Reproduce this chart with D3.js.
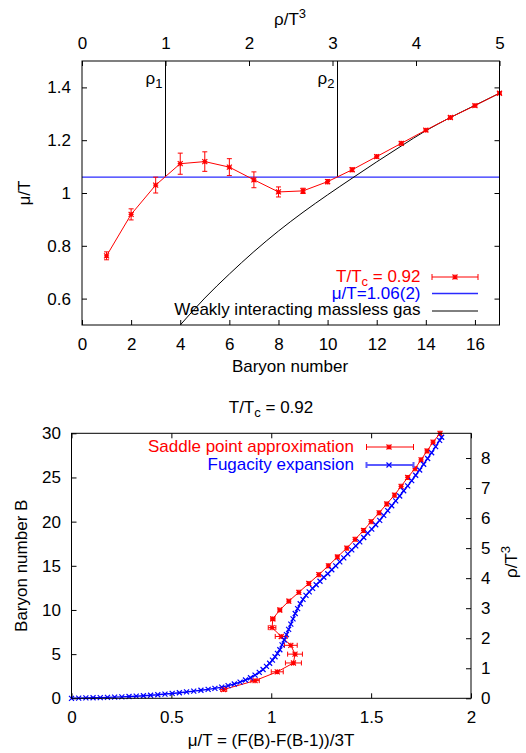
<!DOCTYPE html>
<html>
<head>
<meta charset="UTF-8">
<title></title>
<style>
body {margin: 0; background: #fff;}
svg text {font-family: "Liberation Sans", Arial, sans-serif; font-size: 17px;}
.axis path.domain {display: none;}
.axis line {stroke: #000;}
</style>
</head>
<body>
<script src="https://cdnjs.cloudflare.com/ajax/libs/d3/7.8.5/d3.min.js"></script>
<script>
// lattice data, T/Tc = 0.92
var baryon = [1,2,3,4,5,6,7,8,9,10,11,12,13,14,15,16,17,18,19,20,21,22,23,24,25,26,27,28,29,30];
var muT = [0.762,0.919,1.030,1.111,1.119,1.098,1.050,1.004,1.008,1.043,1.088,1.138,1.188,1.238,1.286,1.331,1.378,
           1.420,1.462,1.500,1.540,1.578,1.617,1.650,1.683,1.720,1.750,1.780,1.810,1.845];
var muErr = [0.015,0.021,0.030,0.040,0.037,0.032,0.030,0.019,0.010,0.008,0.007,0.006,0.006,0.005,0.005,0.005,0.005,
             0.005,0.005,0.005,0.005,0.005,0.005,0.005,0.005,0.005,0.005,0.005,0.005,0.005];
var muPlateau = 1.06;
// weakly interacting massless gas
var gasB = [4,5,6,7,8,9,10,11,12,13,14,15,16,17];
var gasMu = [0.500,0.602,0.693,0.778,0.856,0.927,0.993,1.056,1.118,1.178,1.236,1.286,1.332,1.378];
// fugacity expansion
var fugMu = [0,0.036,0.072,0.108,0.144,0.18,0.216,0.252,0.288,0.324,0.36,0.396,0.432,0.468,0.504,0.54,0.576,0.612,0.648,0.684,
             0.718,0.752,0.784,0.815,0.844,0.871,0.896,0.919,0.94,0.959,0.976,0.992,1.006,1.019,1.031,1.043,1.054,1.065,1.076,1.087,
             1.098,1.109,1.12,1.132,1.145,1.159,1.174,1.19,1.207,1.225,1.244,1.263,1.283,1.303,1.323,1.343,1.363,1.383,1.403,1.423,
             1.443,1.463,1.483,1.503,1.523,1.543,1.563,1.583,1.603,1.623,1.643,1.663,1.683,1.703,1.723,1.743,1.763,1.783,1.803,1.823,
             1.843,1.853];
var fugB = [0,0.02,0.04,0.06,0.08,0.11,0.13,0.16,0.2,0.24,0.29,0.34,0.4,0.48,0.55,0.63,0.72,0.81,0.91,1.01,
            1.13,1.27,1.43,1.62,1.83,2.07,2.33,2.62,2.93,3.26,3.61,3.97,4.33,4.7,5.08,5.5,6.05,6.6,7.2,7.8,
            8.4,9.0,9.6,10.15,10.7,11.2,11.65,12.05,12.45,12.85,13.25,13.7,14.1,14.55,15.0,15.45,15.9,16.35,16.8,17.25,
            17.7,18.2,18.7,19.15,19.65,20.15,20.7,21.25,21.8,22.35,22.9,23.5,24.05,24.65,25.25,25.85,26.5,27.15,27.8,28.5,
            29.2,29.55];
// coexistence densities rho/T^3
var rhoNames = ["1", "2"];
var rhoValues = [1.0, 3.06];
var rhoPerB = 5 / 17;
// tick labels
var topBTicks = [0,2,4,6,8,10,12,14,16];
var topMuTicks = [0.6,0.8,1.0,1.2,1.4];
var topRhoTicks = [0,1,2,3,4,5];
var botMuTicks = [0,0.5,1,1.5,2];
var botBTicks = [0,5,10,15,20,25,30];
var botRhoTicks = [0,1,2,3,4,5,6,7,8];

var red = "#ff0000", blue = "#0000ff";
var svg = d3.select("body").append("svg").attr("width", 526).attr("height", 753);
var fmt = function(d) { return String(+d.toFixed(2)); };

function star(g, x, y, s, col) {
	g.append("path")
		.attr("d", "M" + (x - s) + "," + y + "h" + 2 * s + "M" + x + "," + (y - s) + "v" + 2 * s +
			"M" + (x - s) + "," + (y - s) + "l" + 2 * s + "," + 2 * s + "M" + (x - s) + "," + (y + s) + "l" + 2 * s + "," + (-2 * s))
		.attr("stroke", col).attr("stroke-width", 1.2).attr("fill", "none");
}
function cross(g, x, y, s, col) {
	g.append("path")
		.attr("d", "M" + (x - s) + "," + (y - s) + "l" + 2 * s + "," + 2 * s + "M" + (x - s) + "," + (y + s) + "l" + 2 * s + "," + (-2 * s))
		.attr("stroke", col).attr("stroke-width", 1.2).attr("fill", "none");
}
function hbar(g, x1, x2, y, c, col, w) {
	g.append("path")
		.attr("d", "M" + x1 + "," + y + "H" + x2 + "M" + x1 + "," + (y - c) + "v" + 2 * c + "M" + x2 + "," + (y - c) + "v" + 2 * c)
		.attr("stroke", col).attr("stroke-width", w || 1).attr("fill", "none");
}

// ---------- top panel ----------
var L1 = 82, R1 = 499.5, T1 = 61, B1 = 325;
var xB = d3.scaleLinear().domain([0, 17]).range([L1, R1]);
var yMu = d3.scaleLinear().domain([0.5, 1.5]).range([B1, T1]);
var xRho = d3.scaleLinear().domain([0, 17 * rhoPerB]).range([L1, R1]);

svg.append("g").attr("class", "axis").attr("transform", "translate(0," + B1 + ")")
	.call(d3.axisBottom(xB).tickValues(topBTicks).tickSizeInner(-5).tickSizeOuter(0).tickPadding(13).tickFormat(fmt));
svg.append("g").attr("class", "axis").attr("transform", "translate(0," + T1 + ")")
	.call(d3.axisTop(xRho).tickValues(topRhoTicks).tickSizeInner(-5).tickSizeOuter(0).tickPadding(12).tickFormat(fmt));
svg.append("g").attr("class", "axis").attr("transform", "translate(" + L1 + ",0)")
	.call(d3.axisLeft(yMu).tickValues(topMuTicks).tickSizeInner(-5).tickSizeOuter(0).tickPadding(11).tickFormat(fmt));
svg.append("g").attr("class", "axis").attr("transform", "translate(" + R1 + ",0)")
	.call(d3.axisRight(yMu).tickValues(topMuTicks).tickSizeInner(-5).tickSizeOuter(0).tickFormat(""));
svg.selectAll(".axis text").style("font-size", "17px").attr("fill", "#000");

svg.append("defs").append("clipPath").attr("id", "clip1")
	.append("rect").attr("x", L1).attr("y", T1).attr("width", R1 - L1).attr("height", B1 - T1);

// rho1, rho2 markers
rhoValues.forEach(function(r, i) {
	var x = xRho(r);
	svg.append("line").attr("x1", x).attr("x2", x).attr("y1", T1).attr("y2", yMu(muPlateau))
		.attr("stroke", "#000").attr("stroke-width", 1);
	var t = svg.append("text").attr("x", x - 3).attr("y", 84).attr("text-anchor", "end").style("fill", "#000").text("ρ");
	t.append("tspan").attr("dy", 4).style("font-size", "13px").text(rhoNames[i]);
});

// plateau
svg.append("line").attr("x1", L1).attr("x2", R1).attr("y1", yMu(muPlateau)).attr("y2", yMu(muPlateau))
	.attr("stroke", "#2a2aff").attr("stroke-width", 1.3);

// massless gas
svg.append("path").datum(gasB.map(function(b, i) { return [b, gasMu[i]]; }))
	.attr("clip-path", "url(#clip1)")
	.attr("d", d3.line().curve(d3.curveMonotoneX).x(function(d) { return xB(d[0]); }).y(function(d) { return yMu(d[1]); }))
	.attr("stroke", "#000").attr("stroke-width", 1).attr("fill", "none");

// lattice data
var topPts = baryon.slice(0, 17).map(function(b, i) { return [b, muT[i], muErr[i]]; });
svg.append("path").datum(topPts)
	.attr("d", d3.line().x(function(d) { return xB(d[0]); }).y(function(d) { return yMu(d[1]); }))
	.attr("stroke", red).attr("stroke-width", 1).attr("fill", "none");
var gTop = svg.append("g");
topPts.forEach(function(d) {
	var x = xB(d[0]), y1 = yMu(d[1] - d[2]), y2 = yMu(d[1] + d[2]);
	gTop.append("path")
		.attr("d", "M" + x + "," + y1 + "V" + y2 + "M" + (x - 2.5) + "," + y1 + "h5M" + (x - 2.5) + "," + y2 + "h5")
		.attr("stroke", red).attr("stroke-width", 1).attr("fill", "none");
	star(gTop, x, yMu(d[1]), 2.5, red);
});

svg.append("rect").attr("x", L1).attr("y", T1).attr("width", R1 - L1).attr("height", B1 - T1)
	.attr("fill", "none").attr("stroke", "#000").attr("stroke-width", 1);

// legend top
var lx = 420.5;
var t1 = svg.append("text").attr("x", lx).attr("y", 282).attr("text-anchor", "end").style("fill", red);
t1.append("tspan").text("T/T");
t1.append("tspan").attr("dy", 4).style("font-size", "13px").text("c");
t1.append("tspan").attr("dy", -4).text(" = 0.92");
hbar(svg, 432, 478, 277, 3, red);
star(svg, 455, 277, 2.5, red);
svg.append("text").attr("x", lx).attr("y", 298.5).attr("text-anchor", "end").style("fill", blue).text("μ/T=1.06(2)");
svg.append("line").attr("x1", 432).attr("x2", 478).attr("y1", 293.5).attr("y2", 293.5).attr("stroke", "#2a2aff").attr("stroke-width", 1.3);
svg.append("text").attr("x", lx).attr("y", 315).attr("text-anchor", "end").style("fill", "#000").text("Weakly interacting massless gas");
svg.append("line").attr("x1", 432).attr("x2", 478).attr("y1", 311).attr("y2", 311).attr("stroke", "#000").attr("stroke-width", 1);

// axis titles top
var tr = svg.append("text").attr("x", 290).attr("y", 25).attr("text-anchor", "middle").style("fill", "#000");
tr.append("tspan").text("ρ/T");
tr.append("tspan").attr("dy", -7).style("font-size", "13px").text("3");
svg.append("text").attr("x", 290).attr("y", 372).attr("text-anchor", "middle").style("fill", "#000").text("Baryon number");
svg.append("text").attr("transform", "translate(30," + (T1 + B1) / 2 + ") rotate(-90)").attr("text-anchor", "middle").style("fill", "#000").text("μ/T");

// ---------- bottom panel ----------
var L2 = 71.5, R2 = 471, T2 = 433.3, B2 = 698.3;
var xM = d3.scaleLinear().domain([0, 2]).range([L2, R2]);
var yB = d3.scaleLinear().domain([0, 30]).range([B2, T2]);
var yR = d3.scaleLinear().domain([0, 30 * rhoPerB]).range([B2, T2]);

svg.append("g").attr("class", "axis").attr("transform", "translate(0," + B2 + ")")
	.call(d3.axisBottom(xM).tickValues(botMuTicks).tickSizeInner(-5).tickSizeOuter(0).tickPadding(13).tickFormat(fmt));
svg.append("g").attr("class", "axis").attr("transform", "translate(0," + T2 + ")")
	.call(d3.axisTop(xM).tickValues(botMuTicks).tickSizeInner(-5).tickSizeOuter(0).tickFormat(""));
svg.append("g").attr("class", "axis").attr("transform", "translate(" + L2 + ",0)")
	.call(d3.axisLeft(yB).tickValues(botBTicks).tickSizeInner(-5).tickSizeOuter(0).tickPadding(10.5).tickFormat(fmt));
svg.append("g").attr("class", "axis").attr("transform", "translate(" + R2 + ",0)")
	.call(d3.axisRight(yR).tickValues(botRhoTicks).tickSizeInner(-5).tickSizeOuter(0).tickPadding(10).tickFormat(fmt));
svg.selectAll(".axis text").style("font-size", "17px").attr("fill", "#000");

// fugacity expansion
var fug = fugMu.map(function(m, i) { return [m, fugB[i]]; });
svg.append("path").datum(fug)
	.attr("d", d3.line().x(function(d) { return xM(d[0]); }).y(function(d) { return yB(d[1]); }))
	.attr("stroke", blue).attr("stroke-width", 1.4).attr("fill", "none");

// saddle point data
var botPts = baryon.map(function(b, i) { return [muT[i], b, muErr[i]]; });
svg.append("path").datum(botPts)
	.attr("d", d3.line().x(function(d) { return xM(d[0]); }).y(function(d) { return yB(d[1]); }))
	.attr("stroke", red).attr("stroke-width", 1).attr("fill", "none");
var gBot = svg.append("g");
botPts.forEach(function(d) {
	hbar(gBot, xM(d[0] - d[2]), xM(d[0] + d[2]), yB(d[1]), 2.5, red);
	star(gBot, xM(d[0]), yB(d[1]), 2.5, red);
});
var gFug = svg.append("g");
fug.forEach(function(d) { cross(gFug, xM(d[0]), yB(d[1]), 2.5, blue); });

svg.append("rect").attr("x", L2).attr("y", T2).attr("width", R2 - L2).attr("height", B2 - T2)
	.attr("fill", "none").attr("stroke", "#000").attr("stroke-width", 1);

// legend bottom
svg.append("text").attr("x", 354).attr("y", 452).attr("text-anchor", "end").style("fill", red).text("Saddle point approximation");
hbar(svg, 366.5, 413.5, 447, 3, red);
star(svg, 389, 447, 2.5, red);
svg.append("text").attr("x", 354).attr("y", 469.5).attr("text-anchor", "end").style("fill", blue).text("Fugacity expansion");
hbar(svg, 366.5, 413.5, 465, 3, "#5a5aff", 2);
cross(svg, 389, 465, 2.5, blue);

// titles bottom
var tt = svg.append("text").attr("x", 271).attr("y", 413).attr("text-anchor", "middle").style("fill", "#000");
tt.append("tspan").text("T/T");
tt.append("tspan").attr("dy", 4).style("font-size", "13px").text("c");
tt.append("tspan").attr("dy", -4).text(" = 0.92");
svg.append("text").attr("x", 271).attr("y", 746).attr("text-anchor", "middle").style("fill", "#000").text("μ/T = (F(B)-F(B-1))/3T");
svg.append("text").attr("transform", "translate(27," + (T2 + B2) / 2 + ") rotate(-90)").attr("text-anchor", "middle").style("fill", "#000").text("Baryon number B");
var rr = svg.append("text").attr("transform", "translate(517,562) rotate(-90)").attr("text-anchor", "middle").style("fill", "#000");
rr.append("tspan").text("ρ/T");
rr.append("tspan").attr("dy", -7).style("font-size", "13px").text("3");
</script>
</body>
</html>
